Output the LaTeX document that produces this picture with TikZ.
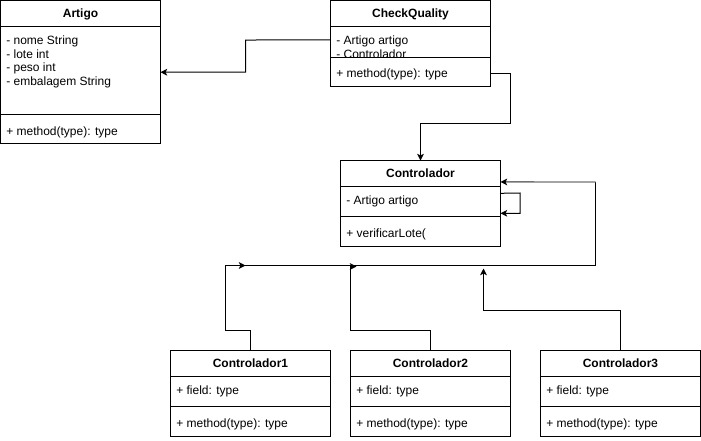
\documentclass[tikz,border=0pt]{standalone}
\usepackage{fontspec}
\setmainfont{Liberation Sans}
\usetikzlibrary{arrows.meta}
\begin{document}
\begin{tikzpicture}[x=0.75pt,y=-0.75pt,
  box/.style={draw, line width=0.75pt, fill=white, anchor=north west, inner sep=0pt, outer sep=0pt},
  ttl/.style={font=\fontsize{9}{11}\selectfont\bfseries, inner sep=0pt, anchor=base, yshift=-3.3pt},
  txt/.style={font=\fontsize{9}{11}\selectfont, inner sep=0pt, anchor=base west, yshift=-3.3pt},
  sep/.style={line width=0.75pt},
  conn/.style={line width=0.75pt, -{Stealth[length=5pt,width=5pt,inset=1.2pt]}},
  wire/.style={line width=0.75pt}]
\useasboundingbox (0,0) rectangle (701,440);

% Artigo
\node[box, minimum width=120pt, minimum height=107.6pt] (artigo) at (0.5,0.5) {};
\draw[sep] (0.5,26) -- (160.5,26);
\draw[sep] (0.5,114) -- (160.5,114);
\node[ttl] (artigoT) at (80.5,13) {Artigo};
\node[txt] (a1) at (6,40) {- nome String};
\node[txt] (a2) at (6,54) {- lote int};
\node[txt] (a3) at (6,67.5) {- peso int};
\node[txt] (a4) at (6,81.5) {- embalagem String};
\node[txt] (a5) at (6,131.5) {+ method(type): type};

% CheckQuality
\node[box, minimum width=120pt, minimum height=64.1pt] (cq) at (330.5,0.5) {};
\draw[sep] (330.5,26) -- (490.5,26);
\node[ttl] (cqT) at (410.5,13) {CheckQuality};
\node[txt] (cq1) at (336,40) {- Artigo artigo};
\node[txt] (cq2) at (336,54.5) {- Controlador};
\node[box, minimum width=120pt, minimum height=21.75pt] (cqm) at (330.5,57) {};
\node[txt] (cq3) at (336,73.5) {+ method(type): type};

% Controlador
\node[box, minimum width=120pt, minimum height=64.5pt] (ctrl) at (340.5,160.5) {};
\draw[sep] (340.5,186) -- (500.5,186);
\draw[sep] (340.5,216) -- (500.5,216);
\node[ttl] (ctrlT) at (420.5,173) {Controlador};
\node[txt] (ct1) at (346,200) {- Artigo artigo};
\node[txt] (ct2) at (346,233.5) {+ verificarLote(};

% Controlador1..3
\foreach \n/\x/\lbl in {c1/170.5/Controlador1, c2/350.5/Controlador2, c3/540.5/Controlador3}{
  \node[box, minimum width=120pt, minimum height=64.5pt] (\n) at (\x,350.5) {};
  \draw[sep] (\x,376.5) -- ({\x+160},376.5);
  \draw[sep] (\x,406.5) -- ({\x+160},406.5);
  \node[ttl] (\n T) at ({\x+80},363) {\lbl};
  \node[txt] (\n f) at ({\x+5.5},390) {+ field: type};
  \node[txt] (\n m) at ({\x+5.5},423.5) {+ method(type): type};
}

% connectors
\draw[conn] ([yshift=-29.6pt]cq.north west) -- (245.5,40) |- (artigo.east);
\draw[conn] ([yshift=-54.8pt]cq.north east) -| (510.5,123.5) -| (ctrl.north);
\draw[conn] ([yshift=-24.6pt]ctrl.north east) -- (520,193) |- ([yshift=-39.6pt]ctrl.north east);

\coordinate (jr) at (595.5,265.5);
\coordinate (jt) at (595.5,182);
\coordinate (jl) at (244,265.5);
\draw[wire] (jl) -- (jr) -- (jt);
\draw[line width=1.1pt, draw=black!55, -{Stealth[length=5pt,width=5pt,inset=1.2pt,color=black,line width=0.75pt]}] (jt) -- ([yshift=-16.1pt]ctrl.north east);

\draw[conn] (c1.north) -- ++(0,-20) -| (225.5,265.5) -- (245.5,265.5);
\draw[conn] (c2.north) -- ++(0,-20) -| (350.5,266.5) -- (356.5,266.5);
\draw[conn] (c3.north) -- ++(0,-40) -| (483.5,268.5);
\end{tikzpicture}
\end{document}
